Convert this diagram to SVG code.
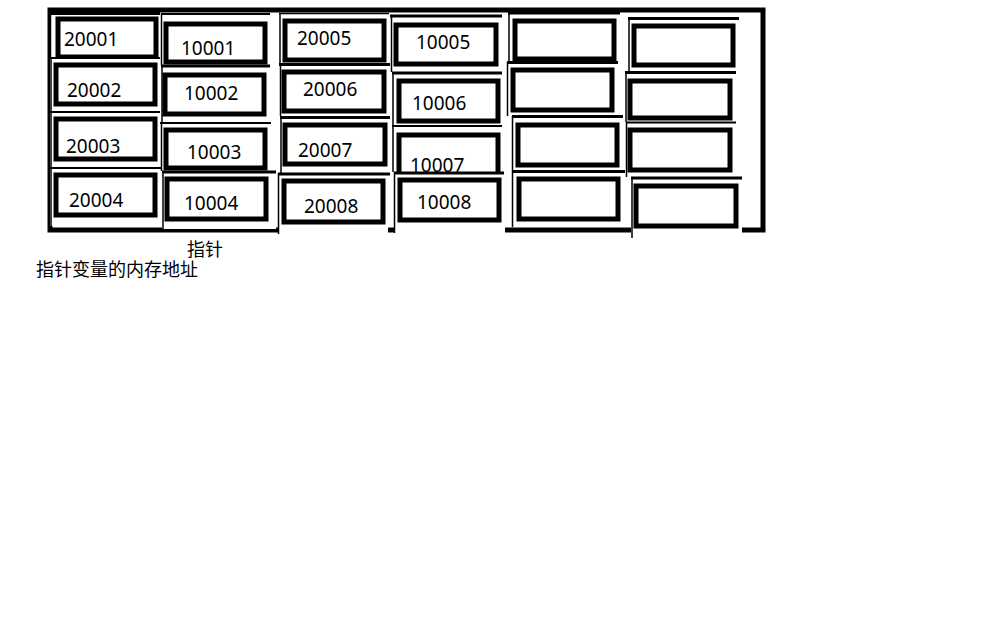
<svg xmlns="http://www.w3.org/2000/svg" width="991" height="635" viewBox="0 0 991 635">
<style>
.bg{fill:#fff}
.fr{fill:#fff;stroke:none}
.tl{stroke:#000;stroke-width:3;fill:none}
.ll{stroke:#000;stroke-width:1.5;fill:none}
.box{fill:#fff;stroke:#000;stroke-width:5}
.num{font-family:"Noto Sans","Open Sans",sans-serif;font-size:19px;fill:#000}
.lbl{font-family:"Noto Sans CJK SC","Noto Sans",sans-serif;font-size:18px;fill:#000}
</style>
<rect class="bg" x="0" y="0" width="991" height="635"/>
<rect id="frame" x="50" y="10" width="713" height="220" fill="none" stroke="#000" stroke-width="5"/>

<!-- column 1 -->
<g id="c1r1"><rect class="fr" x="50" y="12" width="110" height="45"/><path class="tl" d="M50 13.5H160"/><path class="ll" d="M50.5 12V57"/><rect class="box" x="58" y="19" width="98" height="38"/><text class="num" x="64" y="46">20001</text></g>
<g id="c1r2"><rect class="fr" x="50" y="57" width="110" height="54"/><path class="tl" d="M50 58H160" style="stroke-width:2"/><path class="ll" d="M51 57V111"/><rect class="box" x="56" y="65" width="99" height="39"/><text class="num" x="67" y="97">20002</text></g>
<g id="c1r3"><rect class="fr" x="50" y="111" width="110" height="56"/><path class="tl" d="M50 112H160" style="stroke-width:2"/><path class="ll" d="M51 111V167"/><rect class="box" x="56" y="119" width="99" height="40"/><text class="num" x="66" y="153">20003</text></g>
<g id="c1r4"><rect class="fr" x="50" y="167" width="110" height="59"/><path class="tl" d="M49 168H161" style="stroke-width:2"/><path class="ll" d="M51 167V226"/><rect class="box" x="56" y="175" width="99" height="40"/><text class="num" x="69" y="207">20004</text></g>

<!-- column 2 -->
<g id="c2r1"><rect class="fr" x="161" y="13" width="110" height="52"/><path class="tl" d="M161 14H270" style="stroke-width:2"/><path class="ll" d="M161.5 13V65"/><rect class="box" x="166" y="24" width="99" height="38"/><text class="num" x="181" y="55">10001</text></g>
<g id="c2r2"><rect class="fr" x="161" y="65" width="110" height="57"/><path class="tl" d="M161 66H270"/><path class="ll" d="M162 65V122"/><rect class="box" x="165" y="75" width="99" height="39"/><text class="num" x="184" y="100">10002</text></g>
<g id="c2r3"><rect class="fr" x="161" y="122" width="110" height="49"/><path class="tl" d="M160 123H271" style="stroke-width:2"/><path class="ll" d="M161.5 122V171"/><rect class="box" x="166" y="130" width="99" height="38"/><text class="num" x="187" y="159">10003</text></g>
<g id="c2r4"><rect class="fr" x="162" y="171" width="114" height="58"/><path class="tl" d="M162 172H276"/><path class="ll" d="M163 171V229"/><rect class="box" x="167" y="179" width="99" height="40"/><text class="num" x="184" y="210">10004</text></g>

<!-- column 3 -->
<g id="c3r1"><rect class="fr" x="279" y="13" width="110" height="50"/><path class="tl" d="M279 13.5H389" style="stroke-width:1.5"/><path class="ll" d="M280 13V63"/><rect class="box" x="285" y="21" width="99" height="39"/><text class="num" x="297" y="45">20005</text></g>
<g id="c3r2"><rect class="fr" x="279" y="63" width="110" height="53"/><path class="tl" d="M279 64.5H390"/><path class="ll" d="M280.5 63V116"/><rect class="box" x="284" y="72" width="100" height="39"/><text class="num" x="303" y="96">20006</text></g>
<g id="c3r3"><rect class="fr" x="280" y="116" width="110" height="57"/><path class="tl" d="M280 117.5H390"/><path class="ll" d="M281 116V173"/><rect class="box" x="285" y="125" width="100" height="39"/><text class="num" x="298" y="157">20007</text></g>
<g id="c3r4"><rect class="fr" x="278" y="173" width="110" height="61"/><path class="tl" d="M278 174H390"/><path class="ll" d="M278.5 173V234"/><rect class="box" x="284" y="181" width="99" height="41"/><text class="num" x="304" y="213">20008</text></g>

<!-- column 4 -->
<g id="c4r1"><rect class="fr" x="391" y="15" width="111" height="57"/><path class="tl" d="M390 16H502"/><path class="ll" d="M391.5 15V72"/><rect class="box" x="396" y="25" width="100" height="39"/><text class="num" x="416" y="49">10005</text></g>
<g id="c4r2"><rect class="fr" x="392" y="72" width="110" height="53"/><path class="tl" d="M392 73H502"/><path class="ll" d="M393 72V125"/><rect class="box" x="399" y="81" width="99" height="40"/><text class="num" x="412" y="110">10006</text></g>
<g id="c4r3"><rect class="fr" x="392" y="125" width="110" height="47"/><path class="tl" d="M392 126H502" style="stroke-width:2"/><path class="ll" d="M393 125V172"/><rect class="box" x="399" y="135" width="99" height="42"/><text class="num" x="410" y="172">10007</text></g>
<g id="c4r4"><rect class="fr" x="394" y="172" width="111" height="61"/><path class="tl" d="M394 173H504"/><path class="ll" d="M394.5 172V233"/><rect class="box" x="400" y="180" width="99" height="40"/><text class="num" x="417" y="209">10008</text></g>

<!-- column 5 -->
<g id="c5r1"><rect class="fr" x="508" y="12" width="111" height="50"/><path class="tl" d="M508 13H620"/><path class="ll" d="M509 12V62"/><rect class="box" x="515" y="21" width="99" height="38"/></g>
<g id="c5r2"><rect class="fr" x="507" y="62" width="111" height="54"/><path class="tl" d="M507 62.5H618"/><path class="ll" d="M507.5 62V116"/><rect class="box" x="513" y="70" width="99" height="40"/></g>
<g id="c5r3"><rect class="fr" x="512" y="116" width="111" height="55"/><path class="tl" d="M512 116.5H623"/><path class="ll" d="M512.5 116V171"/><rect class="box" x="518" y="125" width="99" height="40"/></g>
<g id="c5r4"><rect class="fr" x="512" y="171" width="113" height="56"/><path class="tl" d="M512 171.5H625"/><path class="ll" d="M512.5 171V227"/><rect class="box" x="519" y="179" width="99" height="40"/></g>

<!-- column 6 -->
<g id="c6r1"><rect class="fr" x="628" y="18" width="111" height="54"/><path class="tl" d="M628 18.5H739"/><path class="ll" d="M629 18V72"/><rect class="box" x="634" y="26" width="99" height="39"/></g>
<g id="c6r2"><rect class="fr" x="625" y="72" width="111" height="50"/><path class="tl" d="M625 72.5H736"/><path class="ll" d="M626 72V122"/><rect class="box" x="630" y="81" width="100" height="37"/></g>
<g id="c6r3"><rect class="fr" x="626" y="122" width="110" height="55"/><path class="tl" d="M626 122.5H736" style="stroke-width:2"/><path class="ll" d="M626.5 122V177"/><rect class="box" x="630" y="130" width="100" height="40"/></g>
<g id="c6r4"><rect class="fr" x="631" y="177" width="111" height="61"/><path class="tl" d="M631 178H742"/><path class="ll" d="M632 177V238"/><rect class="box" x="636" y="186" width="100" height="40"/></g>

<g id="labels">
<text class="lbl" x="187" y="256">指针</text>
<text class="lbl" x="36" y="276">指针变量的内存地址</text>
</g>
</svg>
